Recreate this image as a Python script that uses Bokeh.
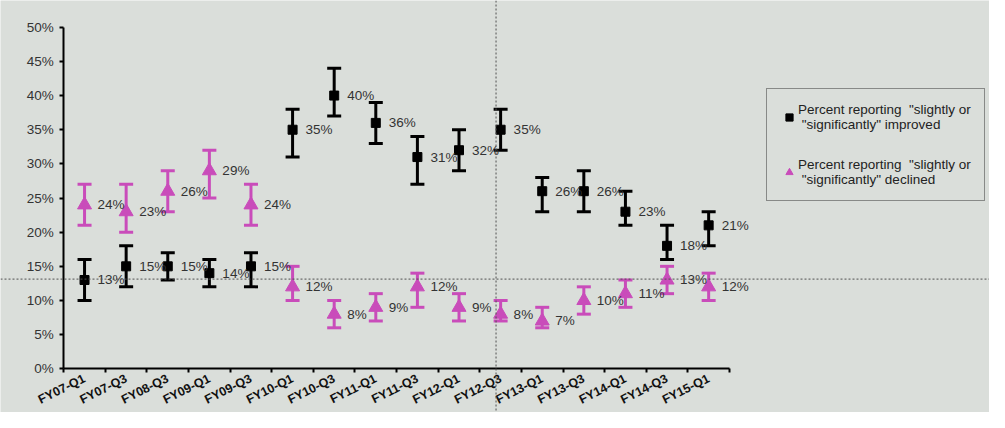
from bokeh.plotting import figure
from bokeh.models import (ColumnDataSource, Range1d, LinearAxis, FixedTicker, PrintfTickFormatter,
                          Whisker, TeeHead, Span, Legend, LegendItem)
from bokeh.core.properties import value
from bokeh.embed import file_html
from bokeh.resources import INLINE

# ---------------- data ----------------
categories = ["FY07-Q1", "FY07-Q3", "FY08-Q3", "FY09-Q1", "FY09-Q3", "FY10-Q1", "FY10-Q3", "FY11-Q1",
              "FY11-Q3", "FY12-Q1", "FY12-Q3", "FY13-Q1", "FY13-Q3", "FY14-Q1", "FY14-Q3", "FY15-Q1"]
improved = [13, 15, 15, 14, 15, 35, 40, 36, 31, 32, 35, 26, 26, 23, 18, 21]
improved_lo = [10, 12, 13, 12, 12, 31, 37, 33, 27, 29, 32, 23, 23, 21, 16, 18]
improved_hi = [16, 18, 17, 16, 17, 38, 44, 39, 34, 35, 38, 28, 29, 26, 21, 23]
declined = [24, 23, 26, 29, 24, 12, 8, 9, 12, 9, 8, 7, 10, 11, 13, 12]
declined_lo = [21, 20, 23, 25, 21, 10, 6, 7, 9, 7, 7, 6, 8, 9, 11, 10]
declined_hi = [27, 27, 29, 32, 27, 15, 10, 11, 14, 11, 10, 9, 12, 13, 15, 14]
y_ticks = [0, 5, 10, 15, 20, 25, 30, 35, 40, 45, 50]
improved_label = 'Percent reporting  "slightly or\n "significantly" improved'
declined_label = 'Percent reporting  "slightly or\n "significantly" declined'
# reference crosshair lines (value coordinates)
cross_y = 13.13
cross_x = 10.39

# ---------------- style ----------------
BG = "#dadeda"
MAGENTA = "#c94cba"
FONT = "Liberation Sans"
n = len(categories)
centers = [i + 0.5 for i in range(n)]
bounds_ticks = list(range(n + 1))

src_imp = ColumnDataSource(dict(x=centers, y=improved, lo=improved_lo, hi=improved_hi,
                                lbl=[f"{v}%" for v in improved]))
src_dec = ColumnDataSource(dict(x=centers, y=declined, lo=declined_lo, hi=declined_hi,
                                lbl=[f"{v}%" for v in declined]))

p = figure(width=989, height=412, output_backend="svg", toolbar_location=None,
           x_range=Range1d(-1.52, 22.25), y_range=Range1d(-6.40, 53.92),
           x_axis_type=None, y_axis_type=None, min_border=0)
p.background_fill_color = BG
p.border_fill_color = BG
p.outline_line_color = None
p.xgrid.visible = False
p.ygrid.visible = False

# x axis (category labels at centers, tick marks at boundaries)
xaxis = LinearAxis(fixed_location=0, bounds=(0, n))
xaxis.ticker = FixedTicker(ticks=centers, minor_ticks=bounds_ticks)
xaxis.major_label_overrides = {c: cat for c, cat in zip(centers, categories)}
xaxis.major_label_orientation = 0.46
xaxis.major_tick_in = 0
xaxis.major_tick_out = 0
xaxis.minor_tick_in = 0
xaxis.minor_tick_out = 4
xaxis.minor_tick_line_width = 2
xaxis.minor_tick_line_color = "black"
xaxis.axis_line_width = 2
xaxis.axis_line_color = "black"
xaxis.major_label_text_font = FONT
xaxis.major_label_text_font_style = "bold"
xaxis.major_label_text_font_size = "12.5px"
xaxis.major_label_text_color = "#111111"
xaxis.major_label_standoff = 5
p.add_layout(xaxis, "below")

yaxis = LinearAxis(fixed_location=0, bounds=(0, 50))
yaxis.ticker = FixedTicker(ticks=y_ticks, minor_ticks=[])
yaxis.formatter = PrintfTickFormatter(format="%d%%")
yaxis.major_tick_in = 0
yaxis.major_tick_out = 4
yaxis.major_tick_line_width = 2
yaxis.axis_line_width = 2
yaxis.axis_line_color = "black"
yaxis.major_label_text_font = FONT
yaxis.major_label_text_font_size = "13.5px"
yaxis.major_label_text_color = "#333333"
yaxis.major_label_standoff = 6
p.add_layout(yaxis, "left")

# crosshair dotted lines
p.add_layout(Span(location=cross_y, dimension="width", line_color="#505050",
                  line_dash="2 2", line_width=1))
p.add_layout(Span(location=cross_x, dimension="height", line_color="#505050",
                  line_dash="2 2", line_width=1))

# error bars
for src, col in ((src_imp, "black"), (src_dec, MAGENTA)):
    w = Whisker(base="x", lower="lo", upper="hi", source=src, dimension="height",
                line_color=col, line_width=3,
                lower_head=TeeHead(size=14, line_width=3, line_color=col),
                upper_head=TeeHead(size=14, line_width=3, line_color=col))
    p.add_layout(w)

sq = p.scatter("x", "y", source=src_imp, marker="square", size=9, color="black")
tri = p.scatter("x", "y", source=src_dec, marker="triangle", size=14, color=MAGENTA)

for src in (src_imp, src_dec):
    p.text("x", "y", text="lbl", source=src, x_offset=13, text_align="left",
           text_baseline="middle", text_font=value(FONT), text_font_size="13.5px",
           text_color="#333333")

legend = Legend(items=[LegendItem(label=improved_label, renderers=[sq]),
                       LegendItem(label=declined_label, renderers=[tri])],
                location=(766, 211), border_line_color="#333333", border_line_width=1,
                background_fill_alpha=0, label_text_font=FONT, label_text_font_size="13.5px",
                label_text_color="#222222", label_text_line_height=1.45,
                glyph_width=18, glyph_height=18, label_standoff=0, padding=13, spacing=25)
p.add_layout(legend, "center")

open("out.html", "w").write(file_html(p, INLINE))
